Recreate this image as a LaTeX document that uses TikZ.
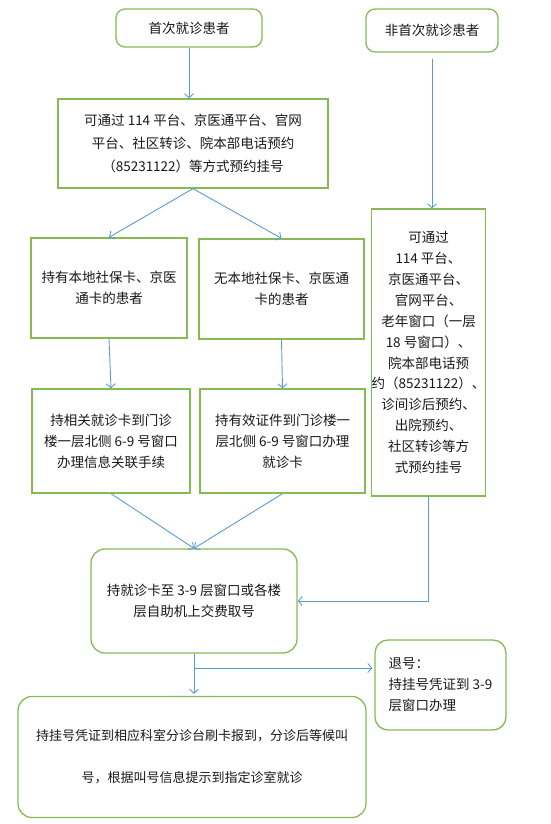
\documentclass[tikz,border=0pt]{standalone}
\usepackage{fontspec}
\newfontfamily\cjk{Noto Sans CJK SC}
\usetikzlibrary{arrows.meta,calc}
\definecolor{boxgreen}{RGB}{134,187,84}
\definecolor{arrblue}{RGB}{91,155,213}
\definecolor{txt}{RGB}{25,25,25}
\tikzset{
  box/.style={draw=boxgreen, line width=1.3pt, fill=white, inner sep=0pt, align=center,
    text=txt, font=\cjk\fontsize{13.5}{21}\selectfont},
  rbox/.style={box, rounded corners=9pt},
  arr/.style={draw=arrblue, line width=0.9pt, -{Straight Barb[length=4pt,width=9pt]}},
  ln/.style={draw=arrblue, line width=0.9pt},
}
\begin{document}
\begin{tikzpicture}[x=1pt,y=-1pt]
\useasboundingbox (0,0) rectangle (551,824);
\node[rbox, minimum width=146pt, minimum height=38pt] (A) at (189,28) {首次就诊患者};
\node[rbox, minimum width=132pt, minimum height=43pt] (B) at (432,30.5) {非首次就诊患者};
\node[box, minimum width=270pt, minimum height=89pt, font=\cjk\fontsize{13.5}{23}\selectfont] (C) at (193,143.5)
  {可通过 114 平台、京医通平台、官网\\平台、社区转诊、院本部电话预约\\（85231122）等方式预约挂号};
\node[box, minimum width=156pt, minimum height=100pt] (D) at (109,288) {持有本地社保卡、京医\\通卡的患者};
\node[box, minimum width=165pt, minimum height=100pt] (E) at (281.5,289) {无本地社保卡、京医通\\卡的患者};
\node[box, minimum width=113pt, minimum height=287pt, font=\cjk\fontsize{13.5}{20.9}\selectfont] (F) at (428.5,352.5)
  {可通过\\114 平台、\\京医通平台、\\官网平台、\\老年窗口（一层\\18 号窗口）、\\院本部电话预\\约（85231122）、\\诊间诊后预约、\\出院预约、\\社区转诊等方\\式预约挂号};
\node[box, minimum width=158pt, minimum height=104pt] (G) at (111,441) {持相关就诊卡到门诊\\楼一层北侧 6-9 号窗口\\办理信息关联手续};
\node[box, minimum width=165pt, minimum height=104pt] (H) at (282.5,441) {持有效证件到门诊楼一\\层北侧 6-9 号窗口办理\\就诊卡};
\node[rbox, rounded corners=14pt, minimum width=206pt, minimum height=104pt] (I) at (194,601) {持就诊卡至 3-9 层窗口或各楼\\层自助机上交费取号};
\node[rbox, rounded corners=13pt, minimum width=131pt, minimum height=90pt, align=left] (K) at (440.5,685) {退号：\\持挂号凭证到 3-9\\层窗口办理};
\node[rbox, rounded corners=14pt, minimum width=348pt, minimum height=121pt, font=\cjk\fontsize{13}{42}\selectfont] (J) at (192,757)
  {持挂号凭证到相应科室分诊台刷卡报到，分诊后等候叫\\号，根据叫号信息提示到指定诊室就诊};
\draw[arr] (A.south) -- (A.south |- C.north);
\draw[arr, shorten <=6pt] (B.south) -- (F.north -| B.south);
\draw[arr] (C.south) -- (D.north);
\draw[arr] (C.south) -- (E.north);
\draw[arr] (D.south) -- (G.north);
\draw[arr] (E.south) -- (H.north);
\draw[arr] (G.south) -- (I.north);
\draw[arr] (H.south) -- (I.north);
\draw[arr] (F.south) -- (F.south |- I.east) -- (I.east);
\draw[arr, shorten >=2pt] (I.south) -- (I.south |- J.north);
\coordinate (br) at (194,668);
\draw[arr, shorten >=2pt] (br) -- (br -| K.west);
\end{tikzpicture}
\end{document}
